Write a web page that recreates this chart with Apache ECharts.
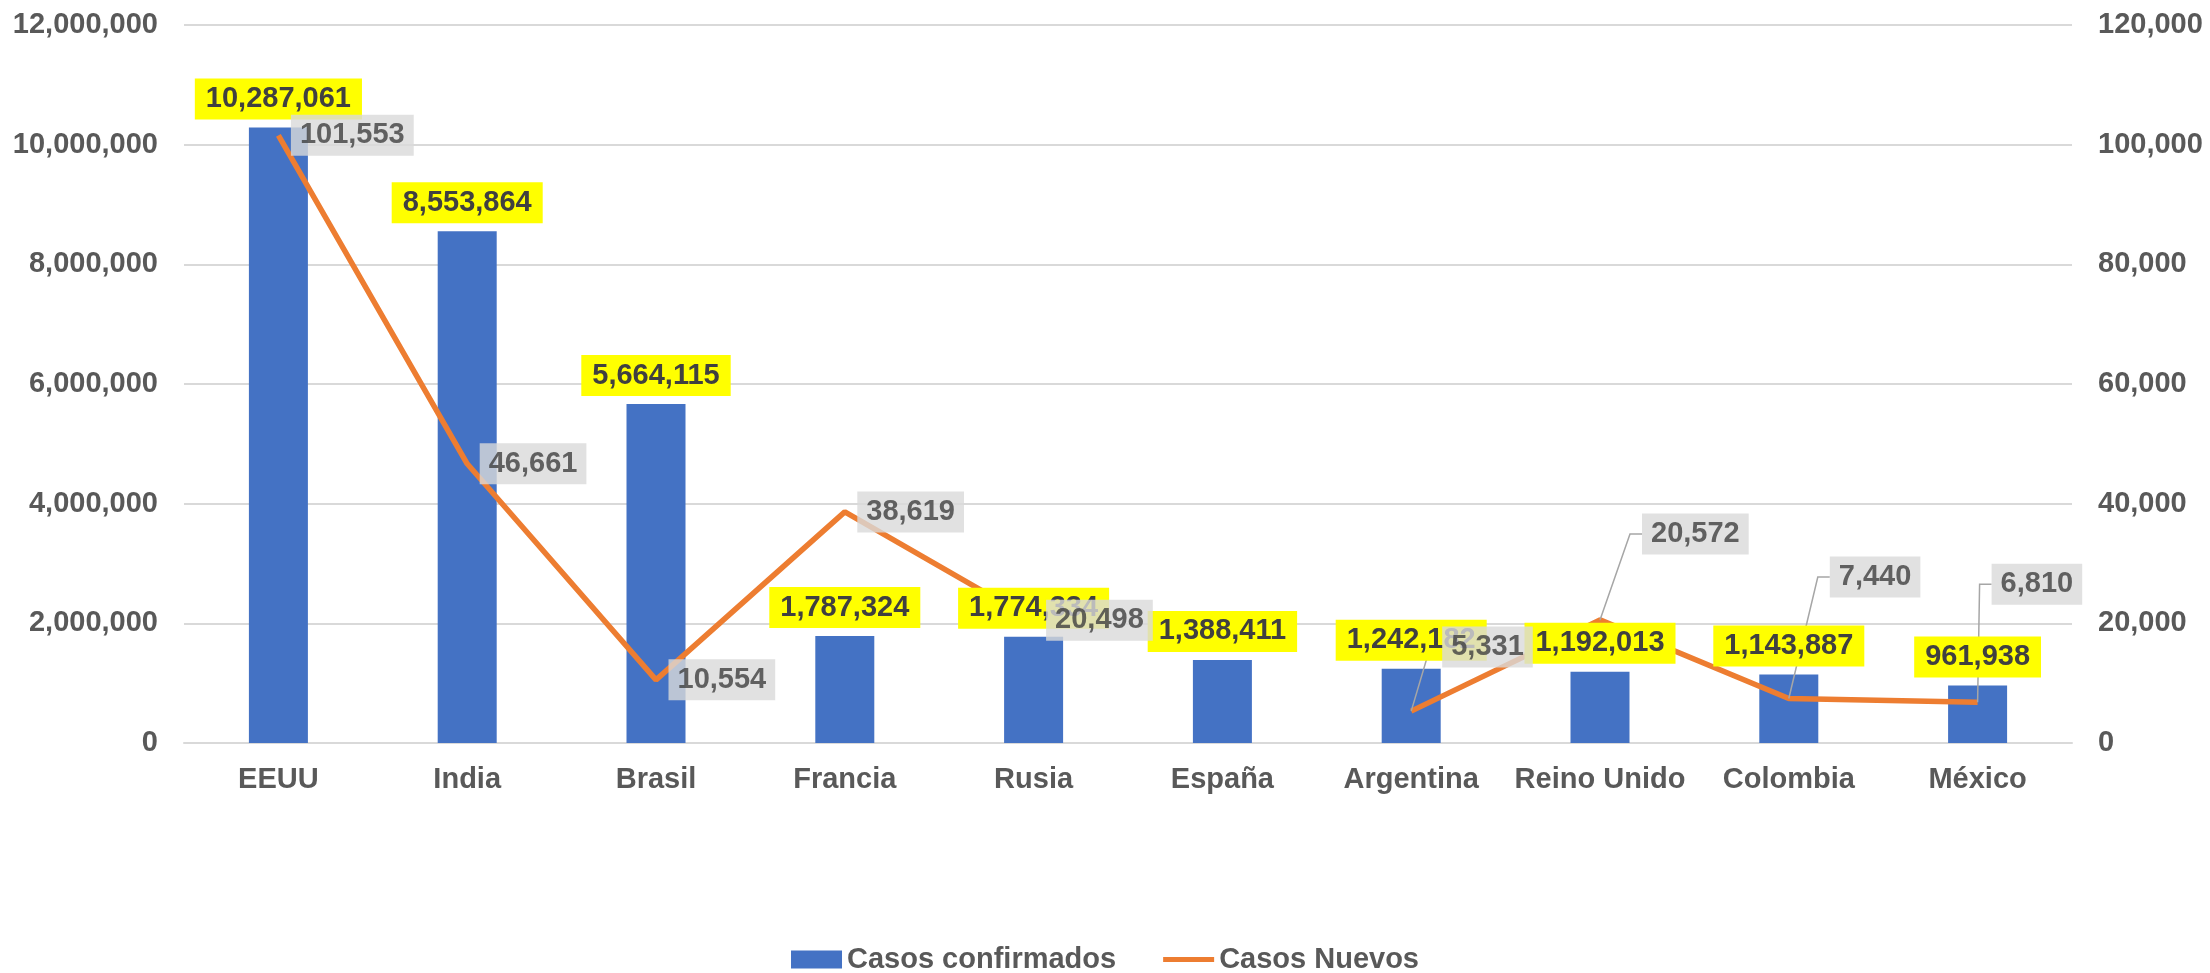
<!DOCTYPE html>
<html>
<head>
<meta charset="utf-8">
<script src="https://cdn.jsdelivr.net/npm/echarts@6/dist/echarts.min.js"></script>
<style>
  html, body { margin: 0; padding: 0; background: #fff; }
  #chart { width: 2210px; height: 973px; }
</style>
</head>
<body>
<div id="chart"></div>
<script>
// datos
var countries = ['EEUU', 'India', 'Brasil', 'Francia', 'Rusia', 'España', 'Argentina', 'Reino Unido', 'Colombia', 'México'];
var confirmed = [10287061, 8553864, 5664115, 1787324, 1774334, 1388411, 1242182, 1192013, 1143887, 961938];
var newCases = [101553, 46661, 10554, 38619, 20498, null, 5331, 20572, 7440, 6810];
var leftTicks = { min: 0, max: 12000000, step: 2000000 };
var rightTicks = { min: 0, max: 120000, step: 20000 };

// etiquetas desplazadas con linea guia (dx, dy en px)
var shift = { 6: [18.5, -64], 7: [29.5, -86], 8: [28.5, -121.5], 9: [1.5, -118] };
var labelDist = 10;
var font = 'Liberation Sans, Arial, sans-serif';
var fs = 29;

function fmt(v) {
  return Number(v).toLocaleString('en-US');
}

var chart = echarts.init(document.getElementById('chart'));

var option = {
  animation: false,
  textStyle: { fontFamily: font },
  grid: { left: 184, right: 138, top: 25, bottom: 230 },
  legend: {
    data: [
      { name: 'Casos confirmados', icon: 'rect' },
      { name: 'Casos Nuevos', icon: 'path://M0,0H100V10H0Z' }
    ],
    top: 940,
    left: 'center',
    itemWidth: 51,
    itemHeight: 18,
    itemGap: 47,
    symbolKeepAspect: true,
    textStyle: { color: '#595959', fontSize: fs, fontWeight: 'bold', fontFamily: font }
  },
  xAxis: {
    type: 'category',
    data: countries,
    axisTick: { show: false },
    axisLine: { lineStyle: { color: '#d9d9d9', width: 2 } },
    axisLabel: { interval: 0, color: '#595959', fontSize: fs, fontWeight: 'bold', margin: 22 }
  },
  yAxis: [
    {
      type: 'value',
      min: leftTicks.min, max: leftTicks.max, interval: leftTicks.step,
      axisLabel: { color: '#595959', fontSize: fs, fontWeight: 'bold', margin: 26, formatter: fmt },
      splitLine: { lineStyle: { color: '#d9d9d9', width: 2 } },
      axisLine: { show: false }, axisTick: { show: false }
    },
    {
      type: 'value',
      min: rightTicks.min, max: rightTicks.max, interval: rightTicks.step,
      axisLabel: { color: '#595959', fontSize: fs, fontWeight: 'bold', margin: 26, formatter: fmt },
      splitLine: { show: false },
      axisLine: { show: false }, axisTick: { show: false }
    }
  ],
  series: [
    {
      name: 'Casos confirmados',
      type: 'bar',
      data: confirmed,
      barWidth: 59,
      itemStyle: { color: '#4472c4' },
      z: 2
    },
    {
      name: 'Casos Nuevos',
      type: 'line',
      yAxisIndex: 1,
      data: newCases,
      symbol: 'none',
      connectNulls: false,
      lineStyle: { color: '#ed7d31', width: 5.5 },
      itemStyle: { color: '#ed7d31' },
      z: 3
    },
    {
      // etiquetas amarillas de las barras
      name: 'lbl-confirmados',
      type: 'bar',
      data: confirmed,
      barWidth: 59,
      barGap: '-100%',
      silent: true,
      itemStyle: { color: 'rgba(0,0,0,0)' },
      label: {
        show: true, position: 'top', distance: 8,
        formatter: function (p) { return fmt(p.value); },
        backgroundColor: '#ffff00', padding: [6, 11], lineHeight: 29,
        color: '#404040', fontSize: fs, fontWeight: 'bold', fontFamily: font
      },
      z: 4
    },
    {
      // etiquetas grises de la linea
      name: 'lbl-nuevos',
      type: 'scatter',
      yAxisIndex: 1,
      symbolSize: 5,
      silent: true,
      itemStyle: { color: 'rgba(0,0,0,0)' },
      data: newCases.map(function (v, i) {
        if (v == null) return '-';
        if (shift[i]) return { value: v, label: { offset: shift[i] } };
        return v;
      }),
      label: {
        show: true, position: 'right', distance: labelDist,
        formatter: function (p) { return fmt(p.value); },
        backgroundColor: '#d9d9d9', padding: [6, 9], lineHeight: 29,
        color: '#404040', fontSize: fs, fontWeight: 'bold', fontFamily: font
      },
      z: 5
    }
  ]
};

chart.setOption(option);

// lineas guia
var guides = [];
Object.keys(shift).forEach(function (k) {
  var i = +k;
  var p = chart.convertToPixel({ xAxisIndex: 0, yAxisIndex: 1 }, [i, newCases[i]]);
  var boxLeft = p[0] + 2.5 + labelDist + shift[k][0];
  var cy = p[1] + shift[k][1];
  guides.push({
    type: 'polyline',
    z: 4,
    silent: true,
    shape: { points: [[p[0], p[1]], [boxLeft - 12, cy], [boxLeft, cy]] },
    style: { stroke: '#a6a6a6', lineWidth: 1.5, fill: null }
  });
});
chart.setOption({ graphic: guides });
</script>
</body>
</html>
